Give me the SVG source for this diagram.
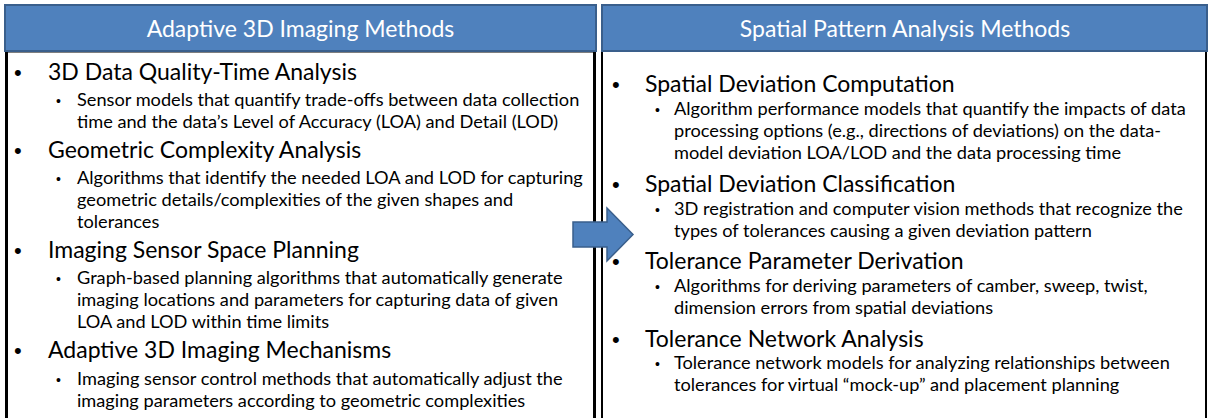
<svg xmlns="http://www.w3.org/2000/svg" width="1208" height="418" viewBox="0 0 1208 418">
<style>
.hdr{fill:#4F81BD;stroke:#3A5F8C;stroke-width:2}
.body{fill:#FFFFFF;stroke:#000000;stroke-width:3}
.ht{font-family:Lato,"Open Sans",sans-serif;font-size:23px;fill:#FFFFFF;text-anchor:middle}
.l1{font-family:Lato,"Open Sans",sans-serif;font-size:23px;fill:#000000}
.l2{font-family:Lato,"Open Sans",sans-serif;font-size:18.2px;fill:#000000}
.b1{font-family:"Liberation Sans",sans-serif;font-size:22px;fill:#000000}
.b2{font-family:"Liberation Sans",sans-serif;font-size:14px;fill:#000000}
</style>
<rect width="1208" height="418" fill="#FFFFFF"/>
<g id="left-panel">
<rect class="body" x="6.5" y="51" width="588" height="380"/>
<rect class="hdr" x="5" y="5" width="591" height="46"/>
<text class="ht" x="300.5" y="37">Adaptive 3D Imaging Methods</text>
<text class="b1" x="14" y="80">•</text>
<text class="l1" x="48" y="80">3D Data Quality-Time Analysis</text>
<text class="b2" x="56" y="106">•</text>
<text class="l2" x="77" y="106">Sensor models that quantify trade-offs between data collection</text>
<text class="l2" x="77" y="128">time and the data’s Level of Accuracy (LOA) and Detail (LOD)</text>
<text class="b1" x="14" y="158">•</text>
<text class="l1" x="48" y="158">Geometric Complexity Analysis</text>
<text class="b2" x="56" y="184">•</text>
<text class="l2" x="77" y="184">Algorithms that identify the needed LOA and LOD for capturing</text>
<text class="l2" x="77" y="206">geometric details/complexities of the given shapes and</text>
<text class="l2" x="77" y="228">tolerances</text>
<text class="b1" x="14" y="258">•</text>
<text class="l1" x="48" y="258">Imaging Sensor Space Planning</text>
<text class="b2" x="56" y="284">•</text>
<text class="l2" x="77" y="284">Graph-based planning algorithms that automatically generate</text>
<text class="l2" x="77" y="306">imaging locations and parameters for capturing data of given</text>
<text class="l2" x="77" y="328">LOA and LOD within time limits</text>
<text class="b1" x="14" y="358">•</text>
<text class="l1" x="48" y="358">Adaptive 3D Imaging Mechanisms</text>
<text class="b2" x="56" y="385">•</text>
<text class="l2" x="77" y="385">Imaging sensor control methods that automatically adjust the</text>
<text class="l2" x="77" y="407">imaging parameters according to geometric complexities</text>
</g>
<g id="right-panel">
<rect class="body" x="602" y="51" width="604" height="380" style="stroke-width:2"/>
<rect class="hdr" x="602" y="5" width="605" height="46"/>
<text class="ht" x="905" y="37">Spatial Pattern Analysis Methods</text>
<text class="b1" x="612" y="92">•</text>
<text class="l1" x="645" y="92">Spatial Deviation Computation</text>
<text class="b2" x="655" y="115">•</text>
<text class="l2" x="674" y="115">Algorithm performance models that quantify the impacts of data</text>
<text class="l2" x="674" y="137">processing options (e.g., directions of deviations) on the data-</text>
<text class="l2" x="674" y="159">model deviation LOA/LOD and the data processing time</text>
<text class="b1" x="612" y="192">•</text>
<text class="l1" x="645" y="192">Spatial Deviation Classification</text>
<text class="b2" x="655" y="215">•</text>
<text class="l2" x="674" y="215">3D registration and computer vision methods that recognize the</text>
<text class="l2" x="674" y="237">types of tolerances causing a given deviation pattern</text>
<text class="b1" x="612" y="269">•</text>
<text class="l1" x="645" y="269">Tolerance Parameter Derivation</text>
<text class="b2" x="655" y="292">•</text>
<text class="l2" x="674" y="292">Algorithms for deriving parameters of camber, sweep, twist,</text>
<text class="l2" x="674" y="314">dimension errors from spatial deviations</text>
<text class="b1" x="612" y="347">•</text>
<text class="l1" x="645" y="347">Tolerance Network Analysis</text>
<text class="b2" x="655" y="369">•</text>
<text class="l2" x="674" y="369">Tolerance network models for analyzing relationships between</text>
<text class="l2" x="674" y="391">tolerances for virtual “mock-up” and placement planning</text>
</g>
<g id="connectors">
<polygon points="573,222 607,222 607,208 633,234.5 607,261 607,247 573,247" fill="#4F81BD" stroke="#3A5F8C" stroke-width="1.5"/>
</g>
</svg>
